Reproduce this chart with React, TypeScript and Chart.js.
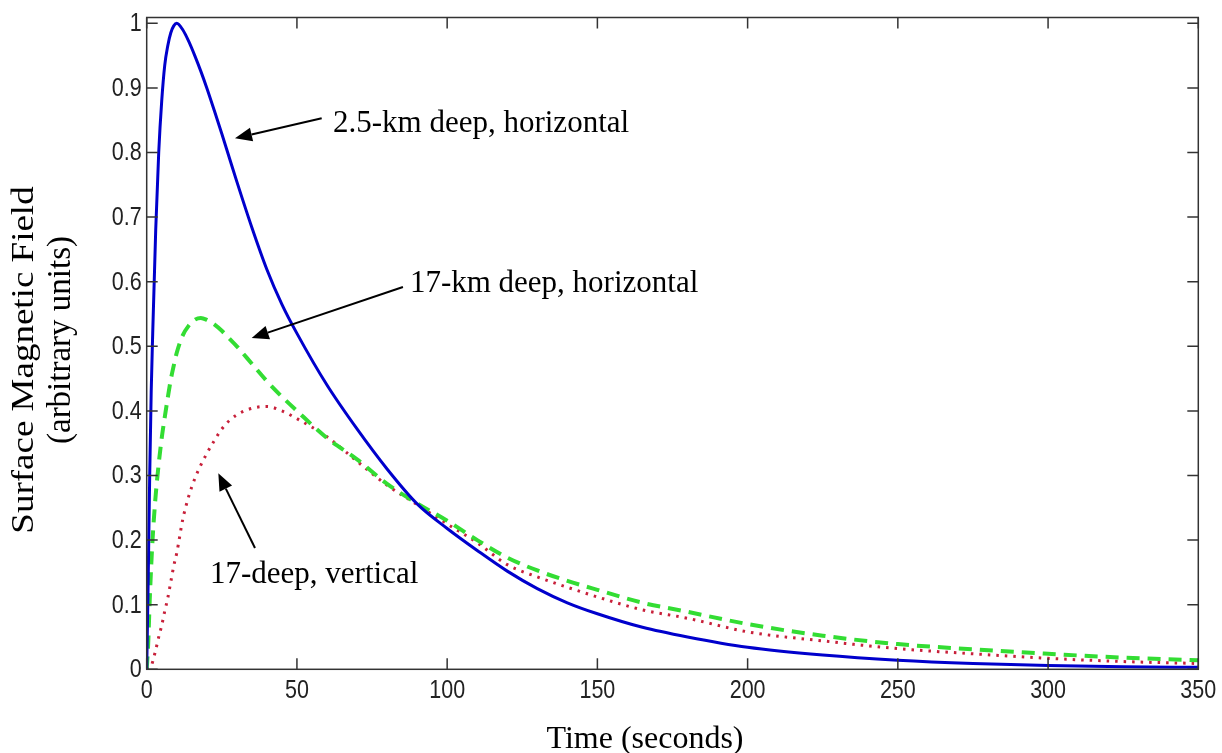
import React, { useEffect, useRef } from "react";
import { Chart, registerables } from "chart.js";

Chart.register(...registerables);

// ---- Data ----
const timeSeconds = [
  0, 0.5, 1, 1.5, 2, 3, 4, 5, 6, 7, 8, 9, 10, 12, 14, 16, 18, 20, 22.5, 25, 27.5, 30, 35, 40, 45,
  50, 60, 70, 80, 90, 100, 110, 120, 130, 140, 150, 165, 180, 200, 225, 250, 275, 300, 325, 350,
];

const deep2p5kmHorizontal = [
  0, 0.14, 0.3, 0.43, 0.52, 0.68, 0.8, 0.88, 0.935, 0.965, 0.985, 0.996, 1.0, 0.99, 0.972, 0.95,
  0.926, 0.9, 0.865, 0.829, 0.792, 0.755, 0.684, 0.619, 0.565, 0.52, 0.44, 0.372, 0.31, 0.256, 0.218,
  0.184, 0.152, 0.125, 0.103, 0.086, 0.065, 0.05, 0.034, 0.022, 0.014, 0.009, 0.006, 0.004, 0.003,
];

const deep17kmHorizontal = [
  0, 0.04, 0.106, 0.16, 0.205, 0.27, 0.318, 0.358, 0.39, 0.42, 0.448, 0.47, 0.49, 0.517, 0.532,
  0.541, 0.544, 0.541, 0.534, 0.524, 0.512, 0.5, 0.473, 0.446, 0.422, 0.4, 0.358, 0.325, 0.287,
  0.257, 0.23, 0.2, 0.173, 0.153, 0.137, 0.123, 0.103, 0.089, 0.07, 0.052, 0.039, 0.031, 0.024,
  0.018, 0.014,
];

const deep17kmVertical = [
  0, 0.001, 0.002, 0.005, 0.012, 0.03, 0.05, 0.068, 0.09, 0.11, 0.135, 0.16, 0.18, 0.232, 0.268,
  0.295, 0.316, 0.334, 0.354, 0.372, 0.385, 0.394, 0.404, 0.407, 0.4, 0.388, 0.36, 0.322, 0.285,
  0.255, 0.225, 0.196, 0.162, 0.143, 0.127, 0.112, 0.092, 0.079, 0.058, 0.044, 0.032, 0.024, 0.017,
  0.012, 0.009,
];

const xTickValues = [0, 50, 100, 150, 200, 250, 300, 350];
const xTickLabels = ["0", "50", "100", "150", "200", "250", "300", "350"];
const yTickValues = [0, 0.1, 0.2, 0.3, 0.4, 0.5, 0.6, 0.7, 0.8, 0.9, 1];
const yTickLabels = ["0", "0.1", "0.2", "0.3", "0.4", "0.5", "0.6", "0.7", "0.8", "0.9", "1"];

const xTitle = "Time (seconds)";
const yTitleLine1 = "Surface Magnetic Field";
const yTitleLine2 = "(arbitrary units)";

// annotation texts, anchored in data coordinates
const noteTexts = ["2.5-km deep, horizontal", "17-km deep, horizontal", "17-deep, vertical"];
const noteAnchors = [
  [62.0, 0.8317],
  [87.6, 0.5845],
  [21.07, 0.1336],
];
const arrowTails = [
  [58.24, 0.8529],
  [85.29, 0.5918],
  [36.04, 0.1878],
];
const arrowTips = [
  [29.38, 0.822],
  [34.94, 0.5128],
  [23.83, 0.3034],
];

const TICK_FONT = "'Liberation Sans', Arial, sans-serif";
const SERIF = "'Liberation Serif', 'Times New Roman', serif";

const toPoints = (ys: number[]) => ys.map((v, i) => ({ x: timeSeconds[i], y: v }));

const decorPlugin = {
  id: "decor",
  afterDatasetsDraw(chart: any) {
    const { ctx, chartArea: a, scales } = chart;
    const xs = scales.x;
    const ys = scales.y;
    ctx.save();
    // frame
    ctx.strokeStyle = "#333";
    ctx.lineWidth = 1.5;
    ctx.strokeRect(a.left, a.top, a.right - a.left, a.bottom - a.top);
    // inward ticks on all sides
    const tl = 11;
    ctx.beginPath();
    xTickValues.forEach((v) => {
      const px = xs.getPixelForValue(v);
      ctx.moveTo(px, a.bottom);
      ctx.lineTo(px, a.bottom - tl);
      ctx.moveTo(px, a.top);
      ctx.lineTo(px, a.top + tl);
    });
    yTickValues.forEach((v) => {
      const py = ys.getPixelForValue(v);
      ctx.moveTo(a.left, py);
      ctx.lineTo(a.left + tl, py);
      ctx.moveTo(a.right, py);
      ctx.lineTo(a.right - tl, py);
    });
    ctx.stroke();

    // tick labels (narrow MATLAB-like digits)
    ctx.fillStyle = "#222";
    ctx.font = `25px ${TICK_FONT}`;
    const sx = 0.86;
    ctx.textBaseline = "middle";
    ctx.textAlign = "right";
    yTickValues.forEach((v, i) => {
      ctx.save();
      ctx.translate(a.left - 5, ys.getPixelForValue(v) + 1);
      ctx.scale(sx, 1);
      ctx.fillText(yTickLabels[i], 0, 0);
      ctx.restore();
    });
    ctx.textAlign = "center";
    ctx.textBaseline = "top";
    xTickValues.forEach((v, i) => {
      ctx.save();
      ctx.translate(xs.getPixelForValue(v), a.bottom + 9);
      ctx.scale(sx, 1);
      ctx.fillText(xTickLabels[i], 0, 0);
      ctx.restore();
    });

    // annotations
    ctx.fillStyle = "#000";
    ctx.strokeStyle = "#000";
    ctx.font = `31px ${SERIF}`;
    ctx.textBaseline = "alphabetic";
    ctx.textAlign = "left";
    noteTexts.forEach((t, i) => {
      ctx.fillText(t, xs.getPixelForValue(noteAnchors[i][0]), ys.getPixelForValue(noteAnchors[i][1]));
      const x0 = xs.getPixelForValue(arrowTails[i][0]);
      const y0 = ys.getPixelForValue(arrowTails[i][1]);
      const x1 = xs.getPixelForValue(arrowTips[i][0]);
      const y1 = ys.getPixelForValue(arrowTips[i][1]);
      const ang = Math.atan2(y1 - y0, x1 - x0);
      const hl = 17;
      const hw = 7;
      const bx = x1 - hl * Math.cos(ang);
      const by = y1 - hl * Math.sin(ang);
      ctx.lineWidth = 2;
      ctx.beginPath();
      ctx.moveTo(x0, y0);
      ctx.lineTo(bx, by);
      ctx.stroke();
      ctx.beginPath();
      ctx.moveTo(x1, y1);
      ctx.lineTo(bx + hw * Math.sin(ang), by - hw * Math.cos(ang));
      ctx.lineTo(bx - hw * Math.sin(ang), by + hw * Math.cos(ang));
      ctx.closePath();
      ctx.fill();
    });

    // axis titles
    ctx.font = `32px ${SERIF}`;
    ctx.textAlign = "center";
    ctx.textBaseline = "alphabetic";
    ctx.fillText(xTitle, 645, 748);
    ctx.save();
    ctx.translate(33, 360);
    ctx.rotate(-Math.PI / 2);
    ctx.scale(1, 0.88);
    ctx.font = `37px ${SERIF}`;
    ctx.fillText(yTitleLine1, 0, 0);
    ctx.restore();
    ctx.save();
    ctx.translate(70, 340);
    ctx.rotate(-Math.PI / 2);
    ctx.font = `33px ${SERIF}`;
    ctx.fillText(yTitleLine2, 0, 0);
    ctx.restore();
    ctx.restore();
  },
};

export default function App() {
  const ref = useRef<HTMLCanvasElement | null>(null);
  useEffect(() => {
    document.body.style.margin = "0";
    const canvas = ref.current;
    if (!canvas) return;
    const chart = new Chart(canvas, {
      type: "line",
      data: {
        datasets: [
          {
            label: "2.5-km deep, horizontal",
            data: toPoints(deep2p5kmHorizontal),
            borderColor: "#0000cc",
            borderWidth: 3,
            pointRadius: 0,
            cubicInterpolationMode: "monotone",
          },
          {
            label: "17-km deep, horizontal",
            data: toPoints(deep17kmHorizontal),
            borderColor: "#33dd33",
            borderWidth: 4,
            borderDash: [13, 8],
            pointRadius: 0,
            cubicInterpolationMode: "monotone",
          },
          {
            label: "17-deep, vertical",
            data: toPoints(deep17kmVertical),
            borderColor: "#c8203a",
            borderWidth: 3,
            borderDash: [2.5, 6],
            pointRadius: 0,
            cubicInterpolationMode: "monotone",
          },
        ],
      },
      options: {
        animation: false,
        responsive: false,
        maintainAspectRatio: false,
        layout: { padding: { left: 0, top: 17.5, right: 23.7, bottom: 0 } },
        plugins: { legend: { display: false }, tooltip: { enabled: false }, title: { display: false } },
        scales: {
          x: {
            type: "linear",
            min: 0,
            max: 350,
            grid: { display: false, drawTicks: false },
            border: { display: false },
            afterBuildTicks: (s: any) => {
              s.ticks = xTickValues.map((v) => ({ value: v }));
            },
            afterFit: (s: any) => {
              s.height = 83.7;
            },
            ticks: { display: false },
          },
          y: {
            type: "linear",
            min: 0,
            max: 1.009,
            grid: { display: false, drawTicks: false },
            border: { display: false },
            afterBuildTicks: (s: any) => {
              s.ticks = yTickValues.map((v) => ({ value: v }));
            },
            afterFit: (s: any) => {
              s.width = 146.7;
            },
            ticks: { display: false },
          },
        },
      },
      plugins: [decorPlugin],
    });
    return () => chart.destroy();
  }, []);
  return (
    <div style={{ position: "absolute", left: 0, top: 0, width: 1222, height: 753, background: "#fff" }}>
      <canvas ref={ref} width={1222} height={753} style={{ width: 1222, height: 753, display: "block" }} />
    </div>
  );
}
